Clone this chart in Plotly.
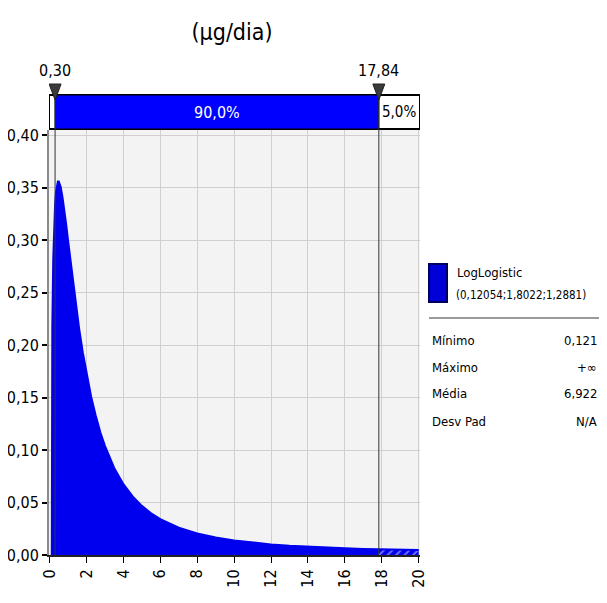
import numpy as np
import plotly.graph_objects as go

# ---------------- data ----------------
x_vals = [0.121, 0.13, 0.15, 0.2, 0.25, 0.3, 0.35, 0.4, 0.45, 0.5, 0.6, 0.7,
          0.8, 0.9, 1.0, 1.2, 1.4, 1.6, 1.8, 2.0, 2.25, 2.5, 2.75, 3.0, 3.5,
          4.0, 4.5, 5.0, 5.5, 6.0, 7.0, 8.0, 9.0, 10.0, 11.0, 12.0, 13.0,
          14.0, 15.0, 16.0, 17.0, 18.0, 19.0, 20.0]
density = [0.066, 0.157, 0.218, 0.282, 0.315, 0.334, 0.346, 0.353, 0.356,
           0.356, 0.351, 0.341, 0.329, 0.315, 0.300, 0.270, 0.242, 0.216,
           0.193, 0.173, 0.151, 0.133, 0.117, 0.104, 0.083, 0.0675, 0.0558,
           0.0468, 0.0398, 0.0342, 0.0260, 0.0205, 0.0166, 0.0138, 0.0117,
           0.0101, 0.0088, 0.0078, 0.0070, 0.0064, 0.0058, 0.0054, 0.0050,
           0.0047]
lower_cut = 0.30
upper_cut = 17.84
lower_label = "0,30"
upper_label = "17,84"
pct_mid = "90,0%"
pct_right = "5,0%"
x_ticks = [0, 2, 4, 6, 8, 10, 12, 14, 16, 18, 20]
y_ticks = [0.00, 0.05, 0.10, 0.15, 0.20, 0.25, 0.30, 0.35, 0.40]
title_text = "(µg/dia)"
dist_name = "LogLogistic"
dist_params = "(0,12054;1,8022;1,2881)"
stat_labels = ["Mínimo", "Máximo", "Média", "Desv Pad"]
stat_values = ["0,121", "+∞", "6,922", "N/A"]

# ---------------- styling / layout constants ----------------
OFF = 8                      # default page margin of the html body
W, H = 607 - OFF, 603 - OFF  # figure size so it fits the window
PLOT_L, PLOT_R, PLOT_T, PLOT_B = 49, 420, 130, 555   # page pixels
ML, MR = PLOT_L - OFF, W - (PLOT_R - OFF)
MT, MB = PLOT_T - OFF, H - (PLOT_B - OFF)
PW, PH = PLOT_R - PLOT_L, PLOT_B - PLOT_T
XR = [-0.03, 20.07]
YR = [0, 0.405]
BLUE = "rgb(0,0,238)"
BAR_BLUE = "rgb(0,0,255)"
FONT = "DejaVu Sans Condensed, Liberation Sans Narrow, DejaVu Sans, sans-serif"


def px_x(px):
    return (px - PLOT_L) / PW


def px_y(py):
    return (PLOT_B - py) / PH


xs = np.array(x_vals)
ys = np.array(density)
y_cut = float(np.interp(upper_cut, xs, ys))
main_mask = xs <= upper_cut
main_x = np.concatenate([[xs[0]], xs[main_mask], [upper_cut]])
main_y = np.concatenate([[0.0], ys[main_mask], [y_cut]])
tail_x = np.concatenate([[upper_cut], xs[~main_mask]])
tail_y = np.concatenate([[y_cut], ys[~main_mask]])

fig = go.Figure()
fig.add_trace(go.Scatter(x=main_x, y=main_y, mode="lines",
                         line=dict(color=BLUE, width=2),
                         fill="tozeroy", fillcolor=BLUE,
                         hoverinfo="skip", showlegend=False))
fig.add_trace(go.Scatter(x=tail_x, y=tail_y, mode="lines",
                         line=dict(color=BLUE, width=2),
                         fill="tozeroy", fillcolor=BLUE,
                         fillpattern=dict(shape="/", fgcolor="white",
                                          bgcolor=BLUE, size=6, solidity=0.3),
                         hoverinfo="skip", showlegend=False))

shapes = []
annotations = []


def note(x, y, text, size, xref="paper", xanchor="center", color="black"):
    annotations.append(dict(x=x, y=y, xref=xref, yref="paper", text=text,
                            xanchor=xanchor, yanchor="middle",
                            showarrow=False,
                            font=dict(size=size, color=color, family=FONT)))


# top percentage bar
bar_y0, bar_y1 = px_y(129), px_y(95)
shapes.append(dict(type="rect", xref="x", yref="paper", x0=XR[0], x1=XR[1],
                   y0=bar_y0, y1=bar_y1, fillcolor="white",
                   line=dict(color="black", width=2), layer="above"))
shapes.append(dict(type="rect", xref="x", yref="paper", x0=lower_cut,
                   x1=upper_cut, y0=bar_y0, y1=bar_y1, fillcolor=BAR_BLUE,
                   line=dict(color="black", width=1), layer="above"))

# delimiter lines and triangles
hw = 6 * (XR[1] - XR[0]) / PW
for cut in (lower_cut, upper_cut):
    shapes.append(dict(type="line", xref="x", yref="paper", x0=cut, x1=cut,
                       y0=0, y1=px_y(96), line=dict(color="#333333", width=1),
                       layer="above"))
    yt, yb = px_y(84), px_y(100)
    shapes.append(dict(type="path", xref="x", yref="paper",
                       path=f"M {cut - hw},{yt} L {cut + hw},{yt} L {cut},{yb} Z",
                       fillcolor="#3a3a3a", line=dict(color="#222222", width=1),
                       layer="above"))

note(lower_cut, px_y(70), lower_label, 16, xref="x")
note(upper_cut, px_y(70), upper_label, 16, xref="x")
note((lower_cut + upper_cut) / 2, px_y(112), pct_mid, 16, xref="x",
     color="white")
note((upper_cut + XR[1]) / 2, px_y(112), pct_right, 15, xref="x")

# legend panel
shapes.append(dict(type="rect", xref="paper", yref="paper",
                   x0=px_x(429), x1=px_x(447), y0=px_y(302), y1=px_y(264),
                   fillcolor="rgb(0,0,215)", line=dict(color="#000060", width=2)))
note(px_x(455), px_y(272), dist_name, 13, xanchor="left")
note(px_x(454), px_y(295), dist_params, 11.5, xanchor="left")
shapes.append(dict(type="line", xref="paper", yref="paper",
                   x0=px_x(429), x1=px_x(600), y0=px_y(318), y1=px_y(318),
                   line=dict(color="#9a9a9a", width=2)))
row_y = [340, 367, 394, 421]
for lab, val, ry in zip(stat_labels, stat_values, row_y):
    note(px_x(430), px_y(ry), lab, 13, xanchor="left")
    note(px_x(599), px_y(ry), val, 13, xanchor="right")

fig.update_layout(
    width=W, height=H,
    margin=dict(l=ML, r=MR, t=MT, b=MB, autoexpand=False),
    paper_bgcolor="white", plot_bgcolor="#f3f3f3",
    separators=", ",
    font=dict(family=FONT, color="black"),
    title=dict(text=title_text, x=px_x(232), xref="paper", xanchor="center",
               y=1 - (32 - OFF) / H, yanchor="middle", yref="container",
               font=dict(size=23, color="black", family=FONT)),
    shapes=shapes, annotations=annotations, showlegend=False,
)
fig.update_xaxes(range=XR, tickmode="array", tickvals=x_ticks,
                 ticktext=[str(t) for t in x_ticks], tickangle=-90,
                 showgrid=True, gridcolor="#cfcfcf", gridwidth=1,
                 zeroline=False, showline=True, linecolor="#222222",
                 linewidth=2, ticks="outside", ticklen=6, tickwidth=1,
                 tickcolor="black", tickfont=dict(size=16, family=FONT),
                 automargin=False, fixedrange=True)
fig.update_yaxes(range=YR, tickmode="array", tickvals=y_ticks,
                 tickformat=".2f", showgrid=True, gridcolor="#cfcfcf",
                 gridwidth=1, zeroline=False, showline=True,
                 linecolor="#8a8a8a", linewidth=2, ticks="outside",
                 ticklen=5, tickwidth=2, tickcolor="black",
                 tickfont=dict(size=16, family=FONT), automargin=False,
                 fixedrange=True)

fig.write_html("out.html")
